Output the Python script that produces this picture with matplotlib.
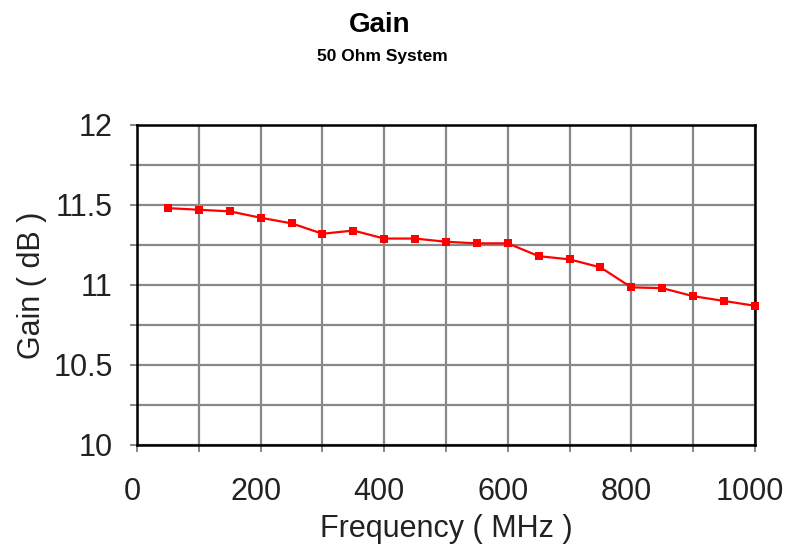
import matplotlib.pyplot as plt
import matplotlib.transforms as mtransforms
import numpy as np

freq_mhz = [50, 100, 150, 200, 250, 300, 350, 400, 450, 500,
            550, 600, 650, 700, 750, 800, 850, 900, 950, 1000]
gain_db = [11.48, 11.47, 11.46, 11.42, 11.385, 11.32, 11.34, 11.29, 11.29, 11.27,
           11.26, 11.26, 11.18, 11.16, 11.11, 10.985, 10.98, 10.93, 10.90, 10.87]

plt.rcParams["font.family"] = ["Liberation Sans", "DejaVu Sans"]

fig = plt.figure(figsize=(7.88, 5.48), dpi=100)
ax = fig.add_axes([0.174, 0.188, 0.784, 0.584])

ax.plot(freq_mhz, gain_db, color="#ff0000", lw=1.6, marker="s", ms=5.5,
        markeredgewidth=0, zorder=3, clip_on=False)

ax.set_xlim(0, 1000)
ax.set_ylim(10, 12)
ax.set_xticks(np.arange(0, 1001, 200))
ax.set_xticks(np.arange(0, 1001, 100), minor=True)
ax.set_yticks([10, 10.5, 11, 11.5, 12])
ax.set_yticklabels(["10", "10.5", "11", "11.5", "12"])
ax.set_yticks(np.arange(10, 12.01, 0.25), minor=True)
ax.grid(which="both", color="#888888", lw=1.6)
ax.set_axisbelow(True)

ax.tick_params(axis="both", which="both", direction="out", color="#888888",
               length=5, width=1.4, labelsize=22, labelcolor="#222222")
ax.tick_params(axis="y", which="major", pad=12.5)
ax.tick_params(axis="x", which="major", pad=18)
for side in ["left", "top", "right", "bottom"]:
    ax.spines[side].set_color("black")
    ax.spines[side].set_linewidth(1.8)

# x tick labels sit a few pixels left of their ticks
shift = mtransforms.ScaledTranslation(-0.05, 0, fig.dpi_scale_trans)
for lbl in ax.get_xticklabels():
    lbl.set_transform(lbl.get_transform() + shift)

ax.set_xlabel("Frequency ( MHz )", fontsize=22, color="#222222")
ax.set_ylabel("Gain ( dB )", fontsize=22, color="#222222")
ax.xaxis.set_label_coords(0.5, -0.215)
ax.yaxis.set_label_coords(-0.146, 0.5)

fig.text(0.482, 0.955, "Gain", ha="center", va="center", fontsize=20, fontweight="bold")
fig.text(0.485, 0.896, "50 Ohm System", ha="center", va="center", fontsize=12.5, fontweight="bold")

fig.savefig("out.png", dpi=100)
